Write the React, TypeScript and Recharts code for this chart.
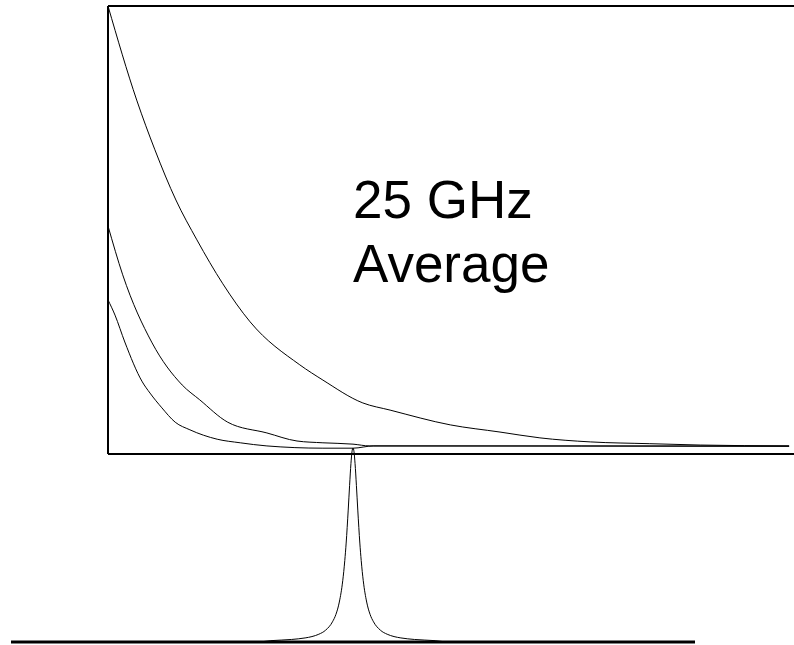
import React from "react";
import { LineChart, Line, XAxis, YAxis, ReferenceLine } from "recharts";

// Upper panel: three decay traces (time, arb. units) and relative level (%)
const traceA = [
  { x: 0, y: 100 }, { x: 4.1, y: 79 }, { x: 6.7, y: 67.9 }, { x: 9.7, y: 56.7 },
  { x: 12.7, y: 47.8 }, { x: 16.4, y: 38 }, { x: 20.3, y: 29.5 }, { x: 27.4, y: 19.9 },
  { x: 30.7, y: 16.5 }, { x: 36.4, y: 11.4 }, { x: 40.3, y: 9.8 }, { x: 48.9, y: 6.5 },
  { x: 56, y: 4.9 }, { x: 61.7, y: 3.6 }, { x: 68.9, y: 2.7 }, { x: 77.4, y: 2.3 },
  { x: 84.6, y: 2.0 }, { x: 97.3, y: 1.8 },
];
const traceB = [
  { x: 0, y: 50.9 }, { x: 2.1, y: 40 }, { x: 6.3, y: 24.8 }, { x: 10.6, y: 15.4 },
  { x: 13.1, y: 12.1 }, { x: 17.1, y: 7.1 }, { x: 22.7, y: 4.7 }, { x: 27, y: 2.9 },
  { x: 30.7, y: 2.5 }, { x: 35, y: 2.2 }, { x: 37.4, y: 1.8 }, { x: 97.3, y: 1.8 },
];
const traceC = [
  { x: 0, y: 34.4 }, { x: 1, y: 31 }, { x: 2.4, y: 25 }, { x: 4.9, y: 16.1 },
  { x: 6, y: 13.6 }, { x: 7.7, y: 10.3 }, { x: 9.6, y: 7.1 }, { x: 11.7, y: 5.4 },
  { x: 15.6, y: 3.3 }, { x: 18.9, y: 2.5 }, { x: 22.7, y: 1.8 }, { x: 30.7, y: 1.3 },
  { x: 35, y: 1.3 }, { x: 37.9, y: 1.8 }, { x: 97.3, y: 1.7 },
];

// Lower panel: spectral line (offset, relative height %)
const peak = [
  { x: -50, y: 0 }, { x: -14, y: 0 }, { x: -12, y: 0.7 }, { x: -9, y: 1.3 },
  { x: -7, y: 2.1 }, { x: -6, y: 2.8 }, { x: -5, y: 4 }, { x: -4, y: 6.1 },
  { x: -3, y: 10.4 }, { x: -2.5, y: 14.2 }, { x: -2, y: 20.6 }, { x: -1.5, y: 31.6 },
  { x: -1.2, y: 42 }, { x: -1, y: 51 }, { x: -0.7, y: 68 }, { x: -0.5, y: 80.6 },
  { x: -0.3, y: 92 }, { x: -0.15, y: 98 }, { x: 0, y: 100 }, { x: 0.15, y: 98 },
  { x: 0.3, y: 92 }, { x: 0.5, y: 80.6 }, { x: 0.7, y: 68 }, { x: 1, y: 51 },
  { x: 1.2, y: 42 }, { x: 1.5, y: 31.6 }, { x: 2, y: 20.6 }, { x: 2.5, y: 14.2 },
  { x: 3, y: 10.4 }, { x: 4, y: 6.1 }, { x: 5, y: 4 }, { x: 6, y: 2.8 },
  { x: 7, y: 2.1 }, { x: 9, y: 1.3 }, { x: 12, y: 0.7 }, { x: 14, y: 0 }, { x: 50, y: 0 },
];

const labelLines = ["25 GHz", "Average"];

const INK = "#000";
const FONT = "'Liberation Sans', Arial, sans-serif";

export default function App() {
  return (
    <div style={{ position: "fixed", inset: 0, width: 794, height: 645, overflow: "hidden", background: "#fff" }}>
      <div style={{ position: "absolute", left: 0, top: 0 }}>
        <LineChart width={830} height={470} margin={{ top: 6, right: 22, bottom: 16, left: 108 }}>
          <XAxis type="number" dataKey="x" domain={[0, 100]} allowDataOverflow hide />
          <YAxis type="number" domain={[0, 100]} allowDataOverflow hide />
          {/* box frame */}
          <ReferenceLine y={100} stroke={INK} strokeWidth={2} />
          <ReferenceLine y={0} stroke={INK} strokeWidth={2} />
          <ReferenceLine x={0} stroke={INK} strokeWidth={2} />
          <Line data={traceA} dataKey="y" type="monotone" stroke={INK} strokeWidth={1} dot={false} isAnimationActive={false} />
          <Line data={traceB} dataKey="y" type="monotone" stroke={INK} strokeWidth={1} dot={false} isAnimationActive={false} />
          <Line data={traceC} dataKey="y" type="monotone" stroke={INK} strokeWidth={1} dot={false} isAnimationActive={false} />
        </LineChart>
      </div>
      <div style={{ position: "absolute", left: 0, top: 430 }}>
        <LineChart width={720} height={215} margin={{ top: 18, right: 25, bottom: 3, left: 11 }}>
          <XAxis type="number" dataKey="x" domain={[-50, 50]} hide />
          <YAxis type="number" domain={[0, 100]} hide />
          <ReferenceLine y={0} stroke={INK} strokeWidth={3} />
          <Line data={peak} dataKey="y" type="monotone" stroke={INK} strokeWidth={1} dot={false} isAnimationActive={false} />
        </LineChart>
      </div>
      <svg width={794} height={645} style={{ position: "absolute", left: 0, top: 0, pointerEvents: "none" }}>
        {labelLines.map((t, i) => (
          <text key={t} x={353} y={218 + i * 64} fontFamily={FONT} fontSize={53} fill={INK}>
            {t}
          </text>
        ))}
      </svg>
    </div>
  );
}
